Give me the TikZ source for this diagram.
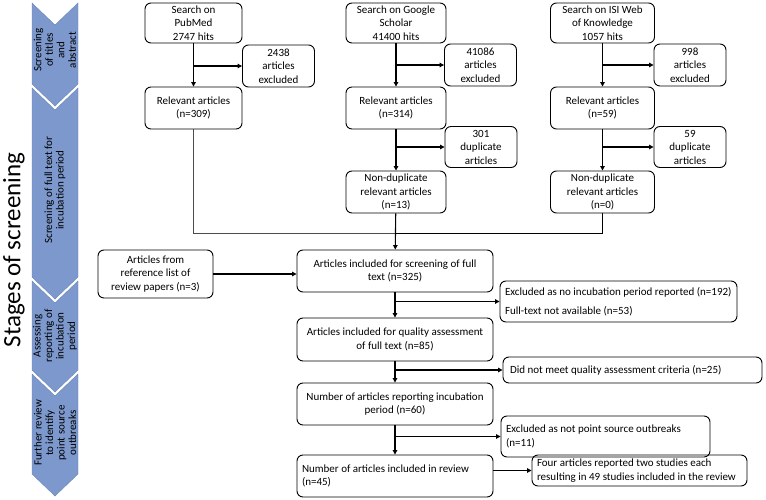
\documentclass[tikz,border=0pt]{standalone}
\usepackage{fontspec}
\setmainfont{Carlito}
\usetikzlibrary{arrows.meta, positioning}
\definecolor{stageblue}{RGB}{124,152,204}
\definecolor{stageedge}{RGB}{108,135,184}

\begin{document}
\begin{tikzpicture}[x=1pt, y=-1pt, font=\fontsize{11}{13.5}\selectfont,
  box/.style={draw, line width=0.9pt, rounded corners=6pt, align=center, inner sep=1.5pt},
  leftbox/.style={box, align=flush left, inner xsep=5pt},
  flow/.style={-{Triangle[length=4.5pt, width=4.5pt]}, line width=1.1pt},
  stagetext/.style={rotate=90, align=center, font=\fontsize{11}{11.5}\selectfont}]
\useasboundingbox (0,0) rectangle (766,500);

% Stages of screening
\foreach \t/\b in {3/84, 88/277, 281/370, 374/474} {
  \filldraw[fill=stageblue, draw=stageedge, line width=0.4pt]
    (32,\t) -- (55,\t+22) -- (78,\t) -- (78,\b) -- (55,\b+22) -- (32,\b) -- cycle;
}
\node[rotate=90, font=\fontsize{25}{28}\selectfont] (title) at (14, 250) {Stages of screening};
\node[stagetext] (stage1) at (55, 50) {Screening\\of titles\\and\\abstract};
\node[stagetext] (stage2) at (55, 190) {Screening of full text for\\incubation period};
\node[stagetext] (stage3) at (55, 336) {Assessing\\reporting of\\incubation\\period};
\node[stagetext] (stage4) at (55, 433) {Further review\\to identify\\point source\\outbreaks};

% Search nodes
\foreach \name/\x/\w/\txt in {pubmed/193.5/97/{Search on\\PubMed\\2747 hits},
    scholar/396/100/{Search on Google\\Scholar\\41400 hits},
    isi/602.5/104/{Search on ISI Web\\of Knowledge\\1057 hits}} {
  \node[box, minimum width=\w pt, minimum height=40pt] (\name) at (\x, 23) {\txt};
}

% Excluded nodes
\node[box, minimum width=72pt, minimum height=42pt] (exclpubmed) at (278.5, 66) {2438\\articles\\excluded};
\node[box, minimum width=72pt, minimum height=42pt] (exclscholar) at (480.5, 65) {41086\\articles\\excluded};
\node[box, minimum width=72pt, minimum height=42pt] (exclisi) at (690, 65) {998\\articles\\excluded};

% Relevant nodes
\node[box, minimum width=97pt, minimum height=42pt] (relpubmed) at (193.5, 108) {Relevant articles\\(n=309)};
\node[box, minimum width=100pt, minimum height=42pt] (relscholar) at (396, 108) {Relevant articles\\(n=314)};
\node[box, minimum width=104pt, minimum height=42pt] (relisi) at (602.5, 108) {Relevant articles\\(n=59)};

% Duplicate nodes
\node[box, minimum width=72pt, minimum height=41pt] (dupscholar) at (481, 147) {301\\duplicate\\articles};
\node[box, minimum width=72pt, minimum height=41pt] (dupisi) at (690, 147) {59\\duplicate\\articles};
\node[box, minimum width=100pt, minimum height=42pt] (nondupscholar) at (396, 192) {Non-duplicate\\relevant articles\\(n=13)};
\node[box, minimum width=104pt, minimum height=42pt] (nondupisi) at (602.5, 192) {Non-duplicate\\relevant articles\\(n=0)};
\coordinate (merge) at (396, 233);

% Main column
\node[box, minimum width=115pt, minimum height=48pt] (refs) at (155.5, 274) {Articles from\\reference list of\\review papers (n=3)};
\node[box, minimum width=196pt, minimum height=42pt] (fulltext) at (395, 271) {Articles included for screening of full\\text (n=325)};
\node[box, minimum width=196pt, minimum height=43pt] (quality) at (395, 339.5) {Articles included for quality assessment\\of full text (n=85)};
\node[box, minimum width=196pt, minimum height=42pt] (reporting) at (395, 404) {Number of articles reporting incubation\\period (n=60)};
\node[leftbox, text width=186pt, minimum height=42pt] (review) at (395, 476) {Number of articles included in review\\(n=45)};

% Exclusions from main column
\node[leftbox, text width=227pt, minimum height=41pt] (exfull) at (618.5, 301.5) {Excluded as no incubation period reported (n=192)\\[5pt]Full-text not available (n=53)};
\node[leftbox, text width=245pt, inner xsep=7pt, minimum height=26pt] (exquality) at (632.5, 370) {Did not meet quality assessment criteria (n=25)};
\node[leftbox, text width=199pt, minimum height=41pt] (expoint) at (605.5, 436.5) {Excluded as not point source outbreaks\\(n=11)};
\node[leftbox, text width=205pt, minimum height=31pt] (fourstudies) at (639.5, 470.5) {Four articles reported two studies each\\resulting in 49 studies included in the review};

% Arrows in the search columns
\foreach \s/\e/\r in {pubmed/exclpubmed/relpubmed, scholar/exclscholar/relscholar, isi/exclisi/relisi} {
  \draw[flow] (\s) -- (\r);
  \draw[flow] (\s.south |- \e) -- (\e);
}
\foreach \r/\d/\n in {relscholar/dupscholar/nondupscholar, relisi/dupisi/nondupisi} {
  \draw[flow] (\r) -- (\n);
  \draw[flow] (\r.south |- \d) -- (\d);
}

% Merging into full text screening
\draw[line width=0.6pt, black!70] (relpubmed.south) -- (relpubmed.south |- merge) -- (merge);
\draw[line width=1pt] (merge) -- (nondupisi.south |- merge) -- (nondupisi.south);
\draw[flow] (nondupscholar) -- (fulltext);
\draw[flow] (refs.east) -- (fulltext.west |- refs.east);

% Arrows in the main column
\foreach \a/\b/\x in {fulltext/quality/exfull, quality/reporting/exquality, reporting/review/expoint} {
  \draw[flow] (\a) -- (\b);
  \draw[flow] (\a.south |- \x) -- (\x);
}
\draw[flow] (review.east |- fourstudies) -- (fourstudies.west);
\end{tikzpicture}
\end{document}
